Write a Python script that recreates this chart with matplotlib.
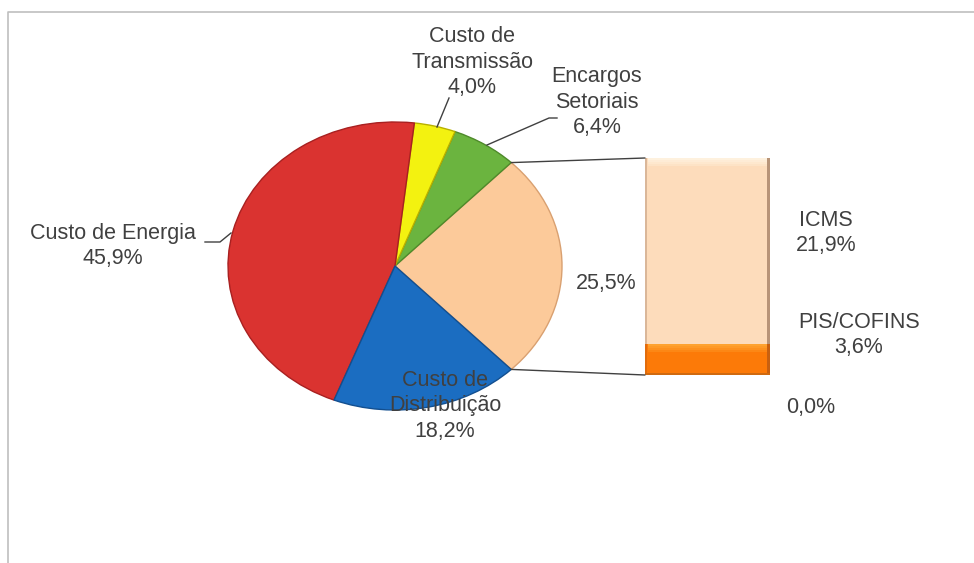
import matplotlib
matplotlib.use("Agg")
import matplotlib.pyplot as plt
from matplotlib.patches import ConnectionPatch, Rectangle
from matplotlib.lines import Line2D
import numpy as np

plt.rcParams['font.family'] = ['Liberation Sans', 'DejaVu Sans']

# Main pie: components of the electricity tariff
pie_labels = ["Custo de Energia", "Custo de\nTransmissão", "Encargos\nSetoriais",
              "Custo de\nDistribuição", ""]
pie_values = [45.9, 4.0, 6.4, 18.2, 25.5]
pie_colors = ["#DA3330", "#F3F210", "#6BB43F", "#1B6DC1", "#FCCA9A"]
pie_edges = ["#A82020", "#B8B000", "#4E8A2A", "#124F90", "#D9A070"]

# Breakdown of the taxes wedge
bar_labels = ["", "PIS/COFINS", "ICMS"]
bar_values = [0.0, 3.6, 21.9]
bar_colors = ["#F08020", "#FC7A08", "#FDDCBB"]

text_color = "#404040"
W, H = 974, 563
fig = plt.figure(figsize=(W / 100, H / 100), dpi=100)


def box(x0, y0, x1, y1):
    return [x0 / W, 1 - y1 / H, (x1 - x0) / W, (y1 - y0) / H]


def pct(v):
    return f"{v:.1f}%".replace(".", ",")


# ---- pie (taxes wedge centred on the right) ----
ax_pie = fig.add_axes(box(228, 122, 562, 410))
order = [4, 2, 1, 0, 3]
vals = [pie_values[i] for i in order]
start = -pie_values[4] * 3.6 / 2
wedges, _ = ax_pie.pie(vals, colors=[pie_colors[i] for i in order],
                       startangle=start, counterclock=True, radius=1.0,
                       wedgeprops=dict(linewidth=1.0))
for w, i in zip(wedges, order):
    w.set_edgecolor(pie_edges[i])
ax_pie.set_xlim(-1, 1)
ax_pie.set_ylim(-1, 1)
ax_pie.set_aspect('auto')
ax_pie.axis('off')

# ---- stacked bar for the breakdown ----
ax_bar = fig.add_axes(box(645, 158, 770, 375))
total = sum(bar_values)
bottom = 0.0
rects = []
for v, c in zip(bar_values, bar_colors):
    r = ax_bar.bar(0, v, width=1.0, bottom=bottom, color=c, linewidth=0)[0]
    rects.append(r)
    bottom += v
ax_bar.set_xlim(-0.5, 0.5)
ax_bar.set_ylim(0, total)
ax_bar.axis('off')

# bevel highlights and shadows on each segment
px = total / 217.0
for r, v, c in zip(rects, bar_values, bar_colors):
    if v <= 0:
        continue
    y0, h = r.get_y(), r.get_height()
    if c == bar_colors[2]:
        hi, sh = "#FFF4E2", "#B89478"
    else:
        hi, sh = "#FFA835", "#C86010"
    for k, a in enumerate([0.9, 0.7, 0.5, 0.3]):
        ax_bar.add_patch(Rectangle((-0.48, y0 + h - (2 + 2 * k) * px), 0.96, 2 * px,
                                   color=hi, linewidth=0, alpha=a))
    ax_bar.add_patch(Rectangle((0.475, y0), 0.025, h, color=sh, linewidth=0))
    ax_bar.add_patch(Rectangle((-0.5, y0), 0.012, h, color=sh, linewidth=0, alpha=0.5))
ax_bar.add_patch(Rectangle((-0.5, 0), 1.0, 2 * px, color="#D06A10", linewidth=0))

# connector lines between the pie wedge and the bar
t_lo = np.deg2rad(start)
t_hi = np.deg2rad(start + pie_values[4] * 3.6)
for t, yb in ((t_hi, total), (t_lo, 0)):
    con = ConnectionPatch(xyA=(np.cos(t), np.sin(t)), coordsA=ax_pie.transData,
                          xyB=(-0.5, yb), coordsB=ax_bar.transData,
                          color="#404040", linewidth=1.0)
    fig.add_artist(con)

# ---- overlay for labels, leader lines and frame ----
ov = fig.add_axes([0, 0, 1, 1], zorder=5)
ov.set_xlim(0, W)
ov.set_ylim(H, 0)
ov.axis('off')

ov.add_line(Line2D([8, 8, W], [H, 12, 12], color="#BFBFBF", linewidth=1.2))

fs = 15.5
kw = dict(fontsize=fs, color=text_color, ha='center', va='center',
          multialignment='center', linespacing=1.28)

ov.text(113, 246, f"{pie_labels[0]}\n{pct(pie_values[0])}", **kw)
ov.text(472, 62, f"{pie_labels[1]}\n{pct(pie_values[1])}", **kw)
ov.text(597, 102, f"{pie_labels[2]}\n{pct(pie_values[2])}", **kw)
ov.text(445, 406, f"{pie_labels[3]}\n{pct(pie_values[3])}", **kw)
ov.text(606, 284, pct(pie_values[4]), **kw)

ov.text(826, 233, f"{bar_labels[2]}\n{pct(bar_values[2])}", **kw)
ov.text(859, 335, f"{bar_labels[1]}\n{pct(bar_values[1])}", **kw)
ov.text(811, 407, pct(bar_values[0]), **kw)

lk = dict(color="#404040", linewidth=1.0)
ov.add_line(Line2D([205, 220, 231], [242, 242, 233], **lk))
ov.add_line(Line2D([449, 437], [98, 127], **lk))
ov.add_line(Line2D([557, 549, 487], [118, 118, 145], **lk))

fig.savefig("out.png", dpi=100, facecolor="white")
